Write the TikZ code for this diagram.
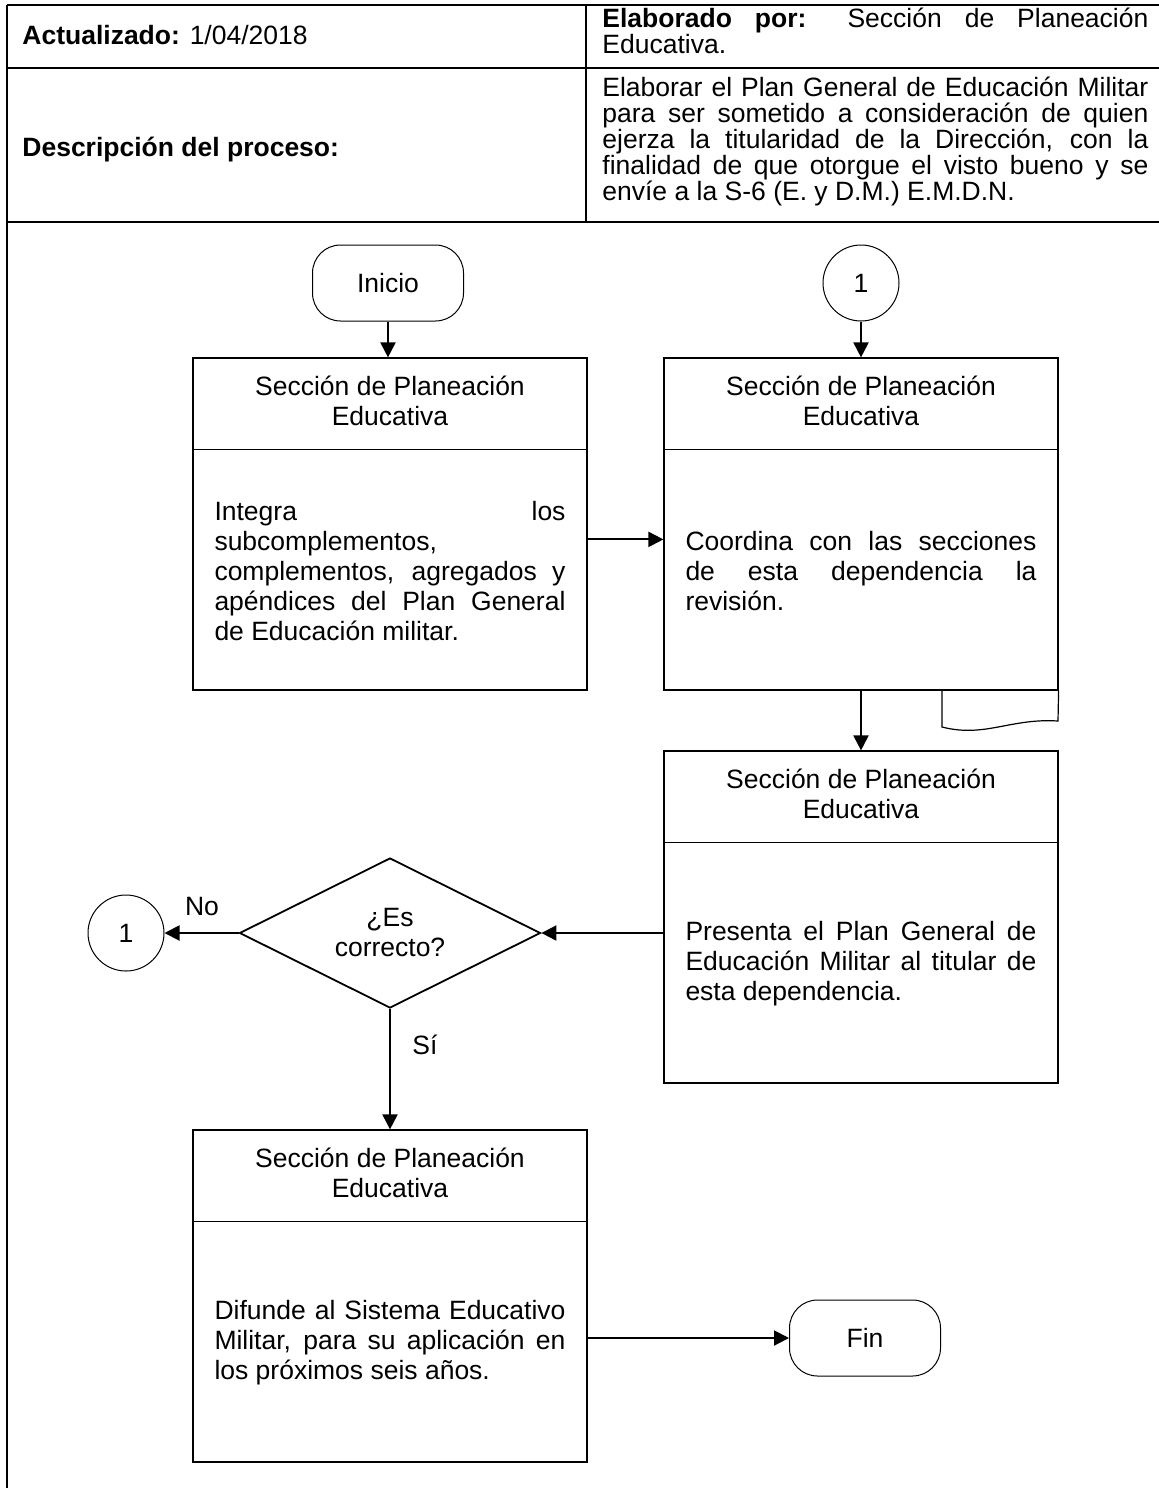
\documentclass[tikz,border=0pt]{standalone}
\usepackage{fontspec}
\setmainfont{Liberation Sans}
\usepackage{tikz}
\usetikzlibrary{arrows.meta,calc,shapes.geometric}
\tolerance=10000

\begin{document}
\begin{tikzpicture}[x=0.5pt,y=-0.5pt,>={Triangle[length=7.5pt,width=7.5pt]},
  txt/.style={font=\fontsize{13.25pt}{15pt}\selectfont},
  tabla/.style={font=\fontsize{13.25pt}{13pt}\selectfont,inner sep=0pt,anchor=base west},
  caja/.style={draw,line width=0.6pt,minimum width=197pt,minimum height=166pt,inner sep=0pt},
  titulo/.style={txt,align=center,inner sep=0pt},
  cuerpo/.style={txt,text width=175.5pt,align=justify,inner sep=0pt},
  terminal/.style={draw,line width=0.5pt,rounded corners=14pt,minimum width=75.5pt,minimum height=38pt,txt},
  conector/.style={draw,circle,line width=0.5pt,minimum size=38pt,inner sep=0pt,txt},
  decision/.style={draw,diamond,aspect=2,line width=0.9pt,minimum width=150.5pt,minimum height=75pt,inner sep=0pt,txt,align=center},
  flecha/.style={->,line width=1pt}]
  \useasboundingbox (0,0) rectangle (1159,1488);

  \draw[line width=0.6pt] (7,5) -- (1159,5) (7,68) -- (1159,68) (7,222) -- (1159,222)
    (586,5) -- (586,222) (7,5) -- (7,1488);
  \node[tabla] (act) at (22,44.5) {\textbf{Actualizado:} 1/04/2018};
  \node[tabla] (desc) at (22,156.5) {\textbf{Descripción del proceso:}};
  \node[tabla,text width=273pt,align=justify] (elab) at (602,27.5)
    {\textbf{Elaborado por:} Sección de Planeación\linebreak Educativa.};
  \node[tabla,text width=273pt,align=justify] (obj) at (602,96.5)
    {Elaborar el Plan General de Educación Militar\linebreak para ser sometido a consideración de quien\linebreak
     ejerza la titularidad de la Dirección, con la\linebreak finalidad de que otorgue el visto bueno y se\linebreak
     envíe a la S-6 (E. y D.M.) E.M.D.N.};

  \node[terminal] (inicio) at (388,283) {Inicio};
  \node[conector] (c1a) at (861,283) {1};
  \node[caja] (p1) at (390,524) {};
  \node[caja] (p2) at (861,524) {};
  \node[caja] (p3) at (861,917) {};
  \node[caja] (p4) at (390,1296) {};
  \node[decision] (dec) at (390,933) {¿Es\\correcto?};
  \node[conector] (c1b) at (126,933) {1};
  \node[terminal] (fin) at (865,1338) {Fin};

  \foreach \p in {p1,p2,p3,p4}{
    \draw[line width=0.6pt] ($(\p.north west)+(0,92)$) -- ($(\p.north east)+(0,92)$);
    \node[titulo] (\p-tit) at ($(\p.north)+(0,43)$) {Sección de Planeación\\Educativa};
  }
  \node[cuerpo] (p1-txt) at ($(p1.south)+(0,-120)$)
    {Integra\hfill los\linebreak subcomplementos,\linebreak complementos, agregados y\linebreak
     apéndices del Plan General\linebreak de Educación militar.};
  \node[cuerpo] (p2-txt) at ($(p2.south)+(0,-120)$)
    {Coordina con las secciones\linebreak de esta dependencia la\linebreak revisión.};
  \node[cuerpo] (p3-txt) at ($(p3.south)+(0,-120)$)
    {Presenta el Plan General de\linebreak Educación Militar al titular de\linebreak esta dependencia.};
  \node[cuerpo] (p4-txt) at ($(p4.south)+(0,-120)$)
    {Difunde al Sistema Educativo\linebreak Militar, para su aplicación en\linebreak los próximos seis años.};

  \draw[line width=0.6pt] (942,690) -- (942,727) .. controls (985,738) and (1010,718) .. (1058,721) -- (p2.south east);

  \coordinate (a12) at ($(p1.north east)+(0,182)$);
  \draw[flecha] (inicio.south) -- (inicio.south |- p1.north);
  \draw[flecha] (c1a.south) -- (c1a.south |- p2.north);
  \draw[flecha] (a12) -- (a12 -| p2.west);
  \draw[flecha] (p2.south) -- (p3.north);
  \draw[flecha] (p3.west |- dec.east) -- (dec.east);
  \draw[flecha] (dec.west) -- (c1b.east);
  \draw[flecha] (dec.south) -- (p4.north);
  \draw[flecha] (p4.east |- fin.west) -- (fin.west);
  \node[txt] (no) at (202,907) {No};
  \node[txt] (si) at (425,1045) {Sí};
\end{tikzpicture}
\end{document}
